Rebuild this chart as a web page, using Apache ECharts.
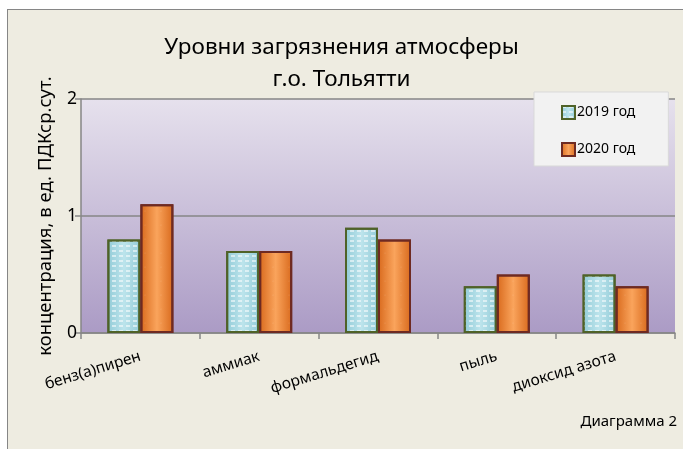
<!DOCTYPE html>
<html>
<head>
<meta charset="utf-8">
<script src="https://cdn.jsdelivr.net/npm/echarts@6/dist/echarts.min.js"></script>
<style>
html,body{margin:0;padding:0;background:#ffffff;width:683px;height:449px;overflow:hidden;}
#bg{position:absolute;left:7px;top:9px;width:700px;height:460px;background:#eeece1;border-left:1px solid #868686;border-top:1px solid #868686;}
#chart{position:absolute;left:0;top:0;width:683px;height:449px;}
</style>
</head>
<body>
<div id="bg"></div>
<div id="chart"></div>
<script>
var categories = ['бенз(а)пирен', 'аммиак', 'формальдегид', 'пыль', 'диоксид азота'];
var values2019 = [0.8, 0.7, 0.9, 0.4, 0.5];
var values2020 = [1.1, 0.7, 0.8, 0.5, 0.4];
var seriesNames = ['2019 год', '2020 год'];
var yTicks = [0, 1, 2];

var FONT = '"Noto Sans", "Open Sans", sans-serif';
var chart = echarts.init(document.getElementById('chart'), null, {renderer: 'canvas'});

var option = {
  backgroundColor: 'transparent',
  animation: false,
  textStyle: {fontFamily: FONT, color: '#000'},
  title: {
    text: 'Уровни загрязнения атмосферы\nг.о. Тольятти',
    left: 'center',
    top: 27,
    textStyle: {fontFamily: FONT, fontSize: 22.5, fontWeight: 'normal', color: '#000', lineHeight: 32}
  },
  legend: {
    orient: 'vertical',
    left: 534,
    top: 92,
    padding: [13, 33, 9, 27],
    itemGap: 22,
    itemWidth: 13,
    itemHeight: 13,
    icon: 'rect',
    backgroundColor: '#f2f2f2',
    borderColor: '#d9d9d9',
    borderWidth: 1,
    textStyle: {fontFamily: FONT, fontSize: 14, color: '#000', padding: [0, 0, 0, -3]},
    data: seriesNames
  },
  grid: {left: 81, right: 8, top: 99, bottom: 116, containLabel: false,
         show: true, borderWidth: 0,
         backgroundColor: {type: 'linear', x: 0, y: 0, x2: 0, y2: 1,
           colorStops: [{offset: 0, color: '#e6e1ed'}, {offset: 1, color: '#ab9bc5'}]}},
  xAxis: {
    type: 'category',
    data: categories,
    axisLine: {lineStyle: {color: '#868686', width: 1.5}},
    axisTick: {show: true, length: 6, lineStyle: {color: '#868686', width: 1.5}},
    axisLabel: {rotate: 17, fontSize: 15.5, color: '#000', margin: 23, fontFamily: FONT, interval: 0}
  },
  yAxis: {
    type: 'value',
    min: yTicks[0],
    max: yTicks[yTicks.length - 1],
    interval: 1,
    name: 'концентрация, в ед. ПДКср.сут.',
    nameLocation: 'middle',
    nameGap: 26,
    nameTextStyle: {fontFamily: FONT, fontSize: 18.5, color: '#000'},
    axisLine: {show: true, lineStyle: {color: '#868686', width: 1.5}},
    axisTick: {show: true, length: 6, lineStyle: {color: '#868686', width: 1.5}},
    axisLabel: {fontSize: 17.5, color: '#000', margin: 4, fontFamily: FONT},
    splitLine: {show: true, lineStyle: {color: '#868686', width: 1.5}}
  },
  graphic: [{
    type: 'text',
    right: 6,
    top: 414,
    style: {text: 'Диаграмма 2', fontFamily: FONT, fontSize: 15, fill: '#000'}
  }],
  series: [
    {
      name: seriesNames[0],
      type: 'bar',
      data: values2019,
      barWidth: 33,
      barGap: '0%',
      itemStyle: {
        color: {type: 'linear', x: 0, y: 0, x2: 1, y2: 0,
          colorStops: [{offset: 0, color: '#92cbd7'}, {offset: 0.5, color: '#bce4ec'}, {offset: 1, color: '#92cbd7'}]},
        borderColor: '#4f6228',
        borderWidth: 2,
        decal: {symbol: 'rect', symbolSize: 1, dashArrayX: [[4, 3]], dashArrayY: [2, 3], rotation: 0, color: 'rgba(255,255,255,0.55)'}
      }
    },
    {
      name: seriesNames[1],
      type: 'bar',
      data: values2020,
      barWidth: 33,
      itemStyle: {
        color: {type: 'linear', x: 0, y: 0, x2: 1, y2: 0,
          colorStops: [{offset: 0, color: '#d8691c'}, {offset: 0.5, color: '#faa45c'}, {offset: 1, color: '#d8691c'}]},
        borderColor: '#6e2a22',
        borderWidth: 2,
        decal: {symbol: 'circle', symbolSize: 0.35, dashArrayX: [[2, 14]], dashArrayY: [2, 12], rotation: 0, color: 'rgba(255,255,255,0.6)'}
      }
    }
  ]
};
chart.setOption(option);
</script>
</body>
</html>
